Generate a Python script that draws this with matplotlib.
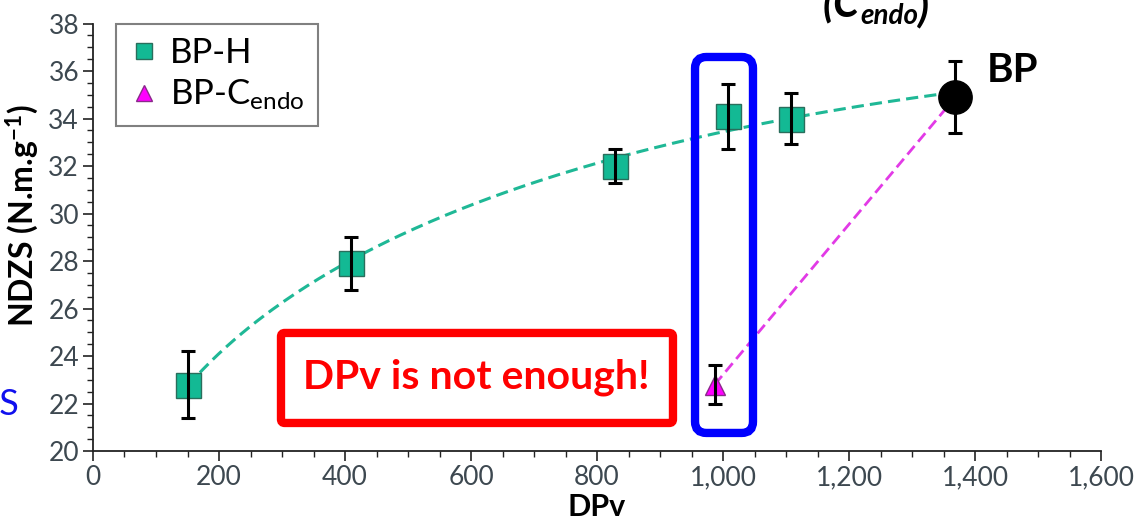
import numpy as np
import matplotlib
matplotlib.use("Agg")
from matplotlib import pyplot as plt
from matplotlib import rcParams
from matplotlib.lines import Line2D
from matplotlib.patches import FancyBboxPatch
from matplotlib.ticker import MultipleLocator, StrMethodFormatter

rcParams.update({
    'font.family': ['Lato', 'DejaVu Sans'],
    'mathtext.fontset': 'custom',
    'mathtext.rm': 'Lato',
    'mathtext.it': 'Lato:italic',
    'mathtext.bf': 'Lato:bold',
    'mathtext.default': 'rm',
})

# data
bph_dpv = [150, 409, 828, 1008, 1108]
bph_ndzs = [22.8, 27.9, 32.0, 34.1, 34.0]
bph_err = [1.42, 1.1, 0.72, 1.37, 1.07]

cendo_dpv = [987]
cendo_ndzs = [22.8]
cendo_err = [0.84]

bp_dpv = [1369]
bp_ndzs = [34.9]
bp_err = [1.53]

teal = '#13b994'
teal_edge = '#2a6e5c'
magenta = '#ff00ff'
tick_grey = '#3d4850'

fig = plt.figure(figsize=(11.38, 5.18), dpi=100)
ax = fig.add_axes([93 / 1138, 67 / 518, 1008 / 1138, 427.5 / 518])

# trend line through BP-H and BP (fit in sqrt DPv)
fit_x = np.array(bph_dpv + bp_dpv, dtype=float)
fit_y = np.array(bph_ndzs + bp_ndzs, dtype=float)
coef = np.polyfit(np.sqrt(fit_x), fit_y, 2)
xx = np.linspace(fit_x.min(), fit_x.max(), 200)
ax.plot(xx, np.polyval(coef, np.sqrt(xx)), ls=(0, (4, 2)), lw=2.2,
        color='#1fb896', zorder=2)

# BP-Cendo to BP link
ax.plot(cendo_dpv + bp_dpv, cendo_ndzs + bp_ndzs, ls=(0, (4, 2)), lw=2.0,
        color='#e23ae6', zorder=2)

ax.plot(bph_dpv, bph_ndzs, 's', ms=18, mfc=teal, mec=teal_edge, mew=1.0, zorder=3)
ax.plot(cendo_dpv, cendo_ndzs, '^', ms=14, mfc=magenta, mec='#8a2a8a', mew=1.0, zorder=3)
ax.plot(bp_dpv, bp_ndzs, 'o', ms=24, color='k', zorder=3)

for xs, ys, es in [(bph_dpv, bph_ndzs, bph_err),
                   (cendo_dpv, cendo_ndzs, cendo_err),
                   (bp_dpv, bp_ndzs, bp_err)]:
    ax.errorbar(xs, ys, yerr=es, fmt='none', ecolor='k', elinewidth=2.2,
                capsize=5, capthick=2.2, zorder=4)

ax.set_xlim(0, 1600)
ax.set_ylim(20, 38)
ax.xaxis.set_major_locator(MultipleLocator(200))
ax.xaxis.set_minor_locator(MultipleLocator(50))
ax.yaxis.set_major_locator(MultipleLocator(2))
ax.yaxis.set_minor_locator(MultipleLocator(0.5))
ax.xaxis.set_major_formatter(StrMethodFormatter('{x:,.0f}'))

for side in ['top', 'right']:
    ax.spines[side].set_visible(False)
for side in ['left', 'bottom']:
    ax.spines[side].set_color('#222222')
    ax.spines[side].set_linewidth(1.3)
ax.tick_params(which='major', direction='out', length=7, width=1.2,
               color='#222222', labelsize=19, labelcolor=tick_grey, pad=3)
ax.tick_params(which='minor', direction='out', length=4, width=1.0, color='#222222')

ax.set_xlabel('DPv', fontsize=22, fontweight='bold', labelpad=2)
ax.set_ylabel(r'NDZS (N.m.g$^{\mathbf{-1}}$)', fontsize=23, fontweight='bold')
ax.yaxis.set_label_coords(-0.052, 0.55)

handles = [Line2D([], [], ls='none', marker='s', ms=12, mfc=teal, mec=teal_edge),
           Line2D([], [], ls='none', marker='^', ms=11, mfc=magenta, mec='#8a2a8a')]
leg = ax.legend(handles, ['BP-H', r'BP-C$_{\mathrm{endo}}$'], loc='upper left',
                bbox_to_anchor=(0.023, 1.0), borderaxespad=0, fontsize=25,
                frameon=True, fancybox=False, framealpha=1, edgecolor='#808080',
                handlelength=0.8, handletextpad=0.35, labelspacing=0.25,
                borderpad=0.4)
leg.get_frame().set_linewidth(1.5)

# highlight boxes
asp = (1 / 23.75) / (1 / 0.63)
ax.add_patch(FancyBboxPatch((955.6, 20.76), 1047.6 - 955.6, 36.59 - 20.76,
                            boxstyle='round,pad=0,rounding_size=18',
                            mutation_aspect=asp, fill=False, ec='#0000ff',
                            lw=6, zorder=5, clip_on=False))
ax.add_patch(FancyBboxPatch((298.4, 21.18), 920.6 - 298.4, 24.97 - 21.18,
                            boxstyle='round,pad=0,rounding_size=6',
                            mutation_aspect=asp, fill=False, ec='#ff0000',
                            lw=6, zorder=5, clip_on=False))
ax.text(608, 22.65, 'DPv is not enough!', color='#ff0000', fontsize=29.5,
        fontweight='bold', ha='center', va='baseline', zorder=6)
ax.text(1419, 35.54, 'BP', color='k', fontsize=29, fontweight='bold',
        ha='left', va='baseline')

# cut-off title fragments
t1 = fig.text(823 / 1138, 1 - 16 / 518, '(C', fontsize=30, fontweight='bold',
              style='italic', ha='left', va='baseline')
t2 = ax.annotate('endo', xy=(1, 0), xycoords=t1, xytext=(0, -4),
                 textcoords='offset points', fontsize=20, fontweight='bold',
                 style='italic', ha='left', va='bottom')
ax.annotate(')', xy=(1, 0), xycoords=t2, xytext=(0, 0),
            textcoords='offset points', fontsize=30, fontweight='bold',
            style='italic', ha='left', va='bottom', annotation_clip=False)
fig.text(19 / 1138, 1 - 415 / 518, 'CS', color='#1010ee', fontsize=26,
         ha='right', va='baseline')

fig.savefig('out.png', dpi=100)
